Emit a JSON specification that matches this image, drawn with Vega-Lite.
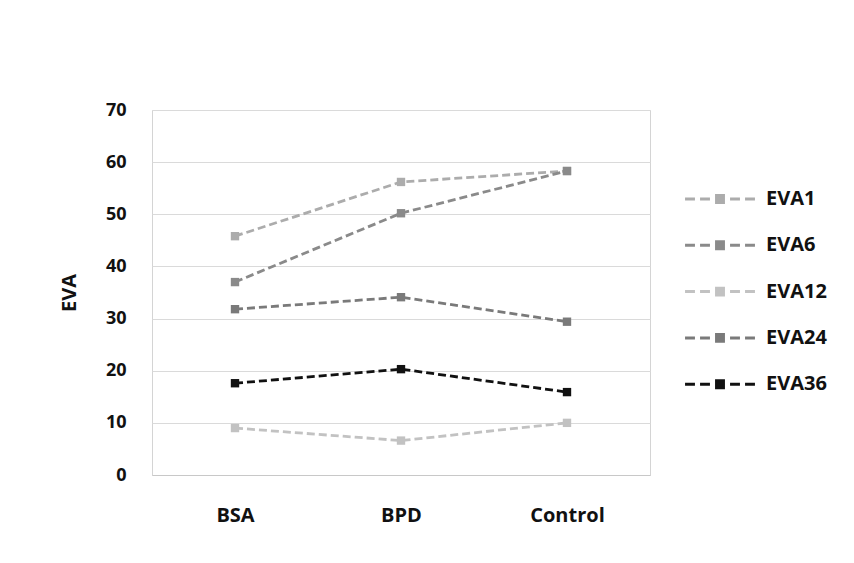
{
  "$schema": "https://vega.github.io/schema/vega-lite/v6.json",
  "width": 498,
  "height": 365,
  "autosize": {"type": "none"},
  "padding": {"left": 152, "top": 110, "right": 204, "bottom": 88},
  "background": "white",
  "config": {
    "font": "Open Sans",
    "view": {"stroke": "#d4d4d4", "strokeWidth": 1}
  },
  "data": {
    "values": [
      {"group": "BSA", "series": "EVA1", "value": 45.8},
      {"group": "BPD", "series": "EVA1", "value": 56.2},
      {"group": "Control", "series": "EVA1", "value": 58.3},
      {"group": "BSA", "series": "EVA6", "value": 37.0},
      {"group": "BPD", "series": "EVA6", "value": 50.2},
      {"group": "Control", "series": "EVA6", "value": 58.3},
      {"group": "BSA", "series": "EVA12", "value": 9.0},
      {"group": "BPD", "series": "EVA12", "value": 6.6},
      {"group": "Control", "series": "EVA12", "value": 10.0},
      {"group": "BSA", "series": "EVA24", "value": 31.8},
      {"group": "BPD", "series": "EVA24", "value": 34.1},
      {"group": "Control", "series": "EVA24", "value": 29.4},
      {"group": "BSA", "series": "EVA36", "value": 17.6},
      {"group": "BPD", "series": "EVA36", "value": 20.3},
      {"group": "Control", "series": "EVA36", "value": 15.9}
    ]
  },
  "encoding": {
    "x": {
      "field": "group",
      "type": "nominal",
      "sort": ["BSA", "BPD", "Control"],
      "scale": {"type": "point", "padding": 0.5},
      "axis": {
        "title": null,
        "labelAngle": 0,
        "ticks": false,
        "domainColor": "#c8c8c8",
        "labelFontSize": 20,
        "labelFontWeight": "bold",
        "labelColor": "#111111",
        "labelPadding": 30,
        "grid": false
      }
    },
    "y": {
      "field": "value",
      "type": "quantitative",
      "scale": {"domain": [0, 70], "nice": false},
      "axis": {
        "title": "EVA",
        "values": [0, 10, 20, 30, 40, 50, 60, 70],
        "ticks": false,
        "domain": false,
        "gridColor": "#dadada",
        "gridWidth": 1.2,
        "labelFontSize": 18,
        "labelFontWeight": "bold",
        "labelColor": "#111111",
        "labelPadding": 26,
        "titleFontSize": 20,
        "titleFontWeight": "bold",
        "titleColor": "#111111",
        "titlePadding": 26
      }
    },
    "color": {
      "field": "series",
      "type": "nominal",
      "sort": ["EVA1", "EVA6", "EVA12", "EVA24", "EVA36"],
      "scale": {
        "domain": ["EVA1", "EVA6", "EVA12", "EVA24", "EVA36"],
        "range": ["#acacac", "#8a8a8a", "#c2c2c2", "#7a7a7a", "#111111"]
      },
      "legend": {
        "title": null,
        "orient": "none",
        "legendX": 553,
        "legendY": 74,
        "padding": 0,
        "symbolType": "M-2.33,-0.1H-1.67V0.1H-2.33Z M-1.33,-0.1H-0.67V0.1H-1.33Z M-0.33,-0.33H0.33V0.33H-0.33Z M0.67,-0.1H1.33V0.1H0.67Z M1.67,-0.1H2.33V0.1H1.67Z",
        "symbolSize": 900,
        "symbolStrokeWidth": 0,
        "labelOffset": 31,
        "rowPadding": 21.3,
        "labelFontSize": 20,
        "labelFontWeight": "bold",
        "labelColor": "#111111"
      }
    }
  },
  "layer": [
    {
      "mark": {"type": "line", "strokeWidth": 2.8, "strokeDash": [8, 4]}
    },
    {
      "mark": {"type": "point", "shape": "square", "filled": true, "size": 70, "opacity": 1}
    }
  ]
}
